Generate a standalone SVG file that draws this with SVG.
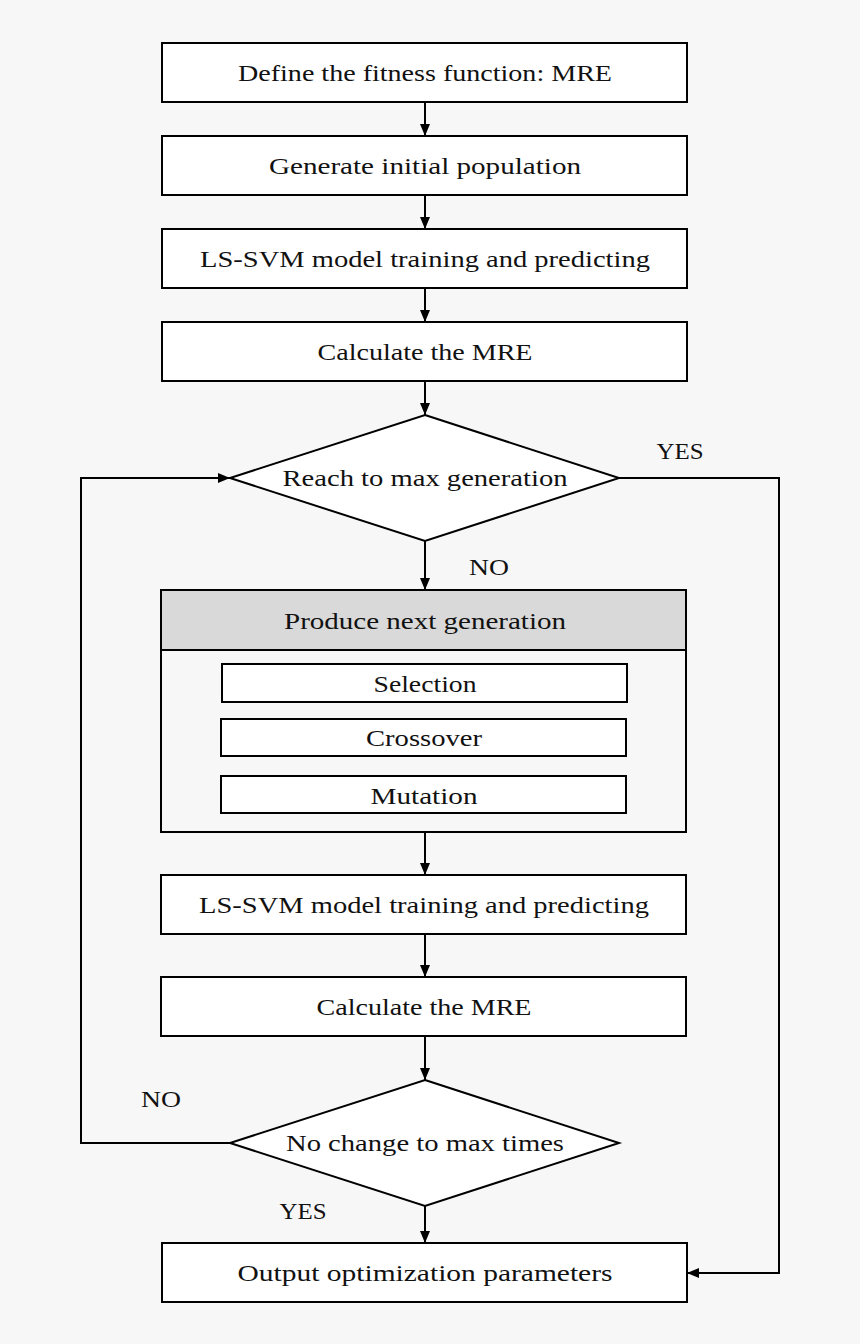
<svg xmlns="http://www.w3.org/2000/svg" width="860" height="1344" viewBox="0 0 860 1344">
<style>
.box{fill:#fff;stroke:#000;stroke-width:2}
.hdr{fill:#d9d9d9;stroke:#000;stroke-width:2}
.grp{fill:#f7f7f7;stroke:#000;stroke-width:2}
.t{font-family:"Liberation Serif","DejaVu Serif",serif;font-size:24px;fill:#111;text-anchor:middle;dominant-baseline:central}
.c{fill:none;stroke:#000;stroke-width:2}
</style>
<defs>
<marker id="a" viewBox="0 0 12 10" refX="12" refY="5" markerWidth="12" markerHeight="10" markerUnits="userSpaceOnUse" orient="auto">
<path d="M0,0L12,5L0,10z" fill="#000"/>
</marker>
</defs>
<rect width="860" height="1344" fill="#f7f7f7"/>
<g id="connectors">
<path class="c" d="M425,102V136" marker-end="url(#a)"/>
<path class="c" d="M425,195V229" marker-end="url(#a)"/>
<path class="c" d="M425,288V322" marker-end="url(#a)"/>
<path class="c" d="M425,381V415" marker-end="url(#a)"/>
<path class="c" d="M425,541V590" marker-end="url(#a)"/>
<path class="c" d="M425,832V875" marker-end="url(#a)"/>
<path class="c" d="M425,934V977" marker-end="url(#a)"/>
<path class="c" d="M425,1036V1080" marker-end="url(#a)"/>
<path class="c" d="M425,1206V1243" marker-end="url(#a)"/>
<path class="c" d="M619,478H779V1273H687" marker-end="url(#a)"/>
<path class="c" d="M230,1143H81V478H230" marker-end="url(#a)"/>
<text class="t" x="680" y="451" textLength="47" lengthAdjust="spacingAndGlyphs">YES</text>
<text class="t" x="489" y="567" textLength="40" lengthAdjust="spacingAndGlyphs">NO</text>
<text class="t" x="161" y="1099" textLength="40" lengthAdjust="spacingAndGlyphs">NO</text>
<text class="t" x="303" y="1211" textLength="47" lengthAdjust="spacingAndGlyphs">YES</text>
</g>
<g id="n1"><rect class="box" x="162" y="43" width="525" height="59"/><text class="t" x="425" y="73" textLength="374" lengthAdjust="spacingAndGlyphs">Define the fitness function: MRE</text></g>
<g id="n2"><rect class="box" x="162" y="136" width="525" height="59"/><text class="t" x="425" y="166" textLength="312" lengthAdjust="spacingAndGlyphs">Generate initial population</text></g>
<g id="n3"><rect class="box" x="162" y="229" width="525" height="59"/><text class="t" x="425" y="259" textLength="450" lengthAdjust="spacingAndGlyphs">LS-SVM model training and predicting</text></g>
<g id="n4"><rect class="box" x="162" y="322" width="525" height="59"/><text class="t" x="425" y="352" textLength="215" lengthAdjust="spacingAndGlyphs">Calculate the MRE</text></g>
<g id="d1"><polygon class="box" points="425,415 619,478 425,541 230,478"/><text class="t" x="425" y="478" textLength="285" lengthAdjust="spacingAndGlyphs">Reach to max generation</text></g>
<g id="g1">
<rect class="grp" x="161" y="590" width="525" height="242"/>
<rect class="hdr" x="161" y="590" width="525" height="60"/>
<text class="t" x="425" y="621" textLength="282" lengthAdjust="spacingAndGlyphs">Produce next generation</text>
</g>
<g id="sel"><rect class="box" x="222" y="664" width="405" height="38"/><text class="t" x="425" y="684" textLength="103" lengthAdjust="spacingAndGlyphs">Selection</text></g>
<g id="cro"><rect class="box" x="221" y="719" width="405" height="37"/><text class="t" x="424" y="738" textLength="116" lengthAdjust="spacingAndGlyphs">Crossover</text></g>
<g id="mut"><rect class="box" x="221" y="776" width="405" height="37"/><text class="t" x="424" y="796" textLength="107" lengthAdjust="spacingAndGlyphs">Mutation</text></g>
<g id="n5"><rect class="box" x="161" y="875" width="525" height="59"/><text class="t" x="424" y="905" textLength="450" lengthAdjust="spacingAndGlyphs">LS-SVM model training and predicting</text></g>
<g id="n6"><rect class="box" x="161" y="977" width="525" height="59"/><text class="t" x="424" y="1007" textLength="215" lengthAdjust="spacingAndGlyphs">Calculate the MRE</text></g>
<g id="d2"><polygon class="box" points="425,1080 619,1143 425,1206 230,1143"/><text class="t" x="425" y="1143" textLength="278" lengthAdjust="spacingAndGlyphs">No change to max times</text></g>
<g id="n7"><rect class="box" x="162" y="1243" width="525" height="59"/><text class="t" x="425" y="1273" textLength="375" lengthAdjust="spacingAndGlyphs">Output optimization parameters</text></g>
</svg>
